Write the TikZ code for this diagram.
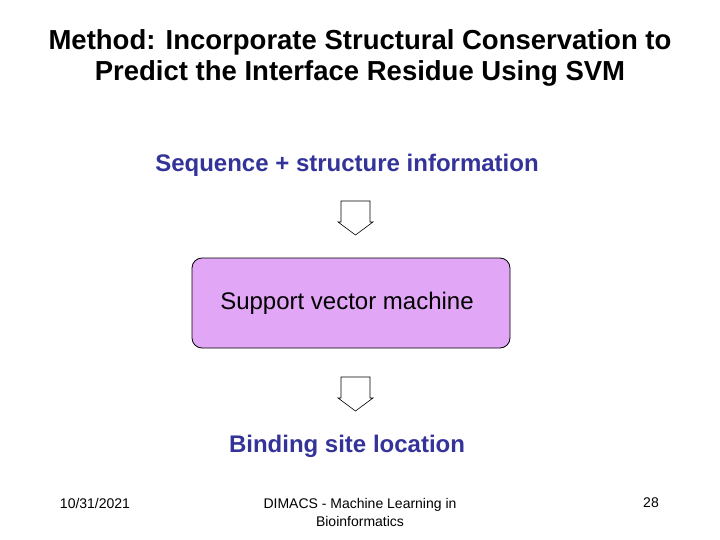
\documentclass[tikz,border=0pt]{standalone}
\usepackage{fontspec}
\setmainfont{Liberation Sans}
\begin{document}
\begin{tikzpicture}[x=1pt,y=-1pt,
  ttl/.style={font=\bfseries\fontsize{27.5}{31}\selectfont,align=center},
  blue/.style={font=\bfseries\fontsize{24}{28}\selectfont,text=dkblue},
  foot/.style={font=\fontsize{14}{18}\selectfont,align=center},
  blockarrow/.style={draw=black,fill=white,line width=0.6pt}]
\definecolor{dkblue}{HTML}{333399}
\definecolor{lav}{HTML}{E2A6F6}
\useasboundingbox (0,0) rectangle (720,540);
\node[ttl] (title) at (360,58) {Method: Incorporate Structural Conservation to\\Predict the Interface Residue Using SVM};
\node[blue] (seq) at (347,165) {Sequence + structure information};
\draw[blockarrow] (341,201) -- (370,201) -- (370,222) -- (373,222) -- (355.5,235) -- (338,222) -- (341,222) -- cycle;
\node[draw=black,fill=lav,rounded corners=10pt,minimum width=318,minimum height=90,line width=0.8pt] (svm) at (351,303) {};
\node[font=\fontsize{24}{28}\selectfont] (svmt) at (347,303) {Support vector machine};
\draw[blockarrow] (341,377) -- (370,377) -- (370,398) -- (373,398) -- (355.5,411) -- (338,398) -- (341,398) -- cycle;
\node[blue] (bind) at (347,446) {Binding site location};
\node[foot] (date) at (95,503) {10/31/2021};
\node[foot] (mid) at (360,512) {DIMACS - Machine Learning in\\Bioinformatics};
\node[foot] (num) at (651,503) {28};
\end{tikzpicture}
\end{document}
